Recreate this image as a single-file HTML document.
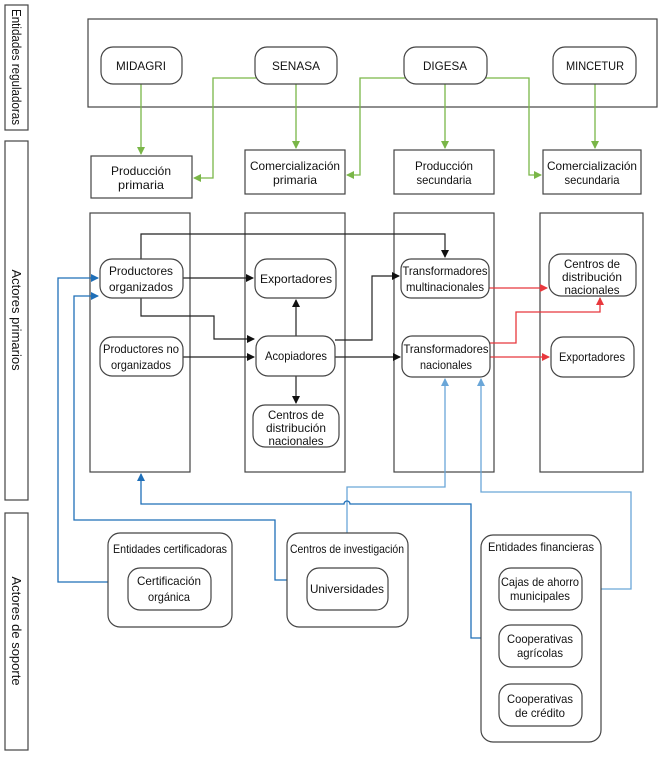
<!DOCTYPE html>
<html><head><meta charset="utf-8"><style>
body{margin:0;background:#fff}
svg{display:block}
text{font-family:"Liberation Sans",sans-serif;font-size:12px;fill:#111;text-anchor:middle}
.s{font-size:13px}
.b{fill:#fff;stroke:#444;stroke-width:1.2}
.k{fill:none;stroke:#222;stroke-width:1.2}
.g{fill:none;stroke:#7ab648;stroke-width:1.3}
.r{fill:none;stroke:#e8383d;stroke-width:1.3}
.u{fill:none;stroke:#1f6fb8;stroke-width:1.3}
.l{fill:none;stroke:#6aa6d8;stroke-width:1.3}
</style></head><body>
<svg width="662" height="757" viewBox="0 0 662 757">
<defs>
<marker id="ak" markerWidth="8" markerHeight="8" refX="7" refY="4" orient="auto" markerUnits="userSpaceOnUse"><path d="M0,0L8,4L0,8z" fill="#111"/></marker>
<marker id="ag" markerWidth="8" markerHeight="8" refX="7" refY="4" orient="auto" markerUnits="userSpaceOnUse"><path d="M0,0L8,4L0,8z" fill="#7ab648"/></marker>
<marker id="ar" markerWidth="8" markerHeight="8" refX="7" refY="4" orient="auto" markerUnits="userSpaceOnUse"><path d="M0,0L8,4L0,8z" fill="#e8383d"/></marker>
<marker id="au" markerWidth="8" markerHeight="8" refX="7" refY="4" orient="auto" markerUnits="userSpaceOnUse"><path d="M0,0L8,4L0,8z" fill="#1f6fb8"/></marker>
<marker id="al" markerWidth="8" markerHeight="8" refX="7" refY="4" orient="auto" markerUnits="userSpaceOnUse"><path d="M0,0L8,4L0,8z" fill="#6aa6d8"/></marker>
</defs>
<rect class="b" x="5" y="5" width="23" height="125"/>
<text class="s" transform="translate(12,67) rotate(90)" textLength="116" lengthAdjust="spacingAndGlyphs">Entidades reguladoras</text>
<rect class="b" x="5" y="141" width="23" height="359"/>
<text class="s" transform="translate(12,320) rotate(90)">Actores primarios</text>
<rect class="b" x="5" y="513" width="23" height="237"/>
<text class="s" transform="translate(12,631) rotate(90)">Actores de soporte</text>

<rect class="b" x="88" y="19" width="569" height="88"/>
<path class="g" d="M141,84V154" marker-end="url(#ag)"/>
<path class="g" d="M256,78H213V178H194" marker-end="url(#ag)"/>
<path class="g" d="M296,84V148" marker-end="url(#ag)"/>
<path class="g" d="M405,78H360V175H347" marker-end="url(#ag)"/>
<path class="g" d="M445,84V148" marker-end="url(#ag)"/>
<path class="g" d="M486,78H529V175H541" marker-end="url(#ag)"/>
<path class="g" d="M595,84V148" marker-end="url(#ag)"/>
<rect class="b" x="101" y="47" width="81" height="37" rx="12"/><text x="141" y="70" textLength="50" lengthAdjust="spacingAndGlyphs">MIDAGRI</text>
<rect class="b" x="255" y="47" width="82" height="37" rx="12"/><text x="296" y="70" textLength="48" lengthAdjust="spacingAndGlyphs">SENASA</text>
<rect class="b" x="404" y="47" width="83" height="37" rx="12"/><text x="445" y="70" textLength="44" lengthAdjust="spacingAndGlyphs">DIGESA</text>
<rect class="b" x="553" y="47" width="83" height="37" rx="12"/><text x="595" y="70" textLength="58" lengthAdjust="spacingAndGlyphs">MINCETUR</text>

<rect class="b" x="91" y="156" width="101" height="42"/><text x="141" y="175" textLength="60" lengthAdjust="spacingAndGlyphs">Producción</text><text x="141" y="189" textLength="46" lengthAdjust="spacingAndGlyphs">primaria</text>
<rect class="b" x="245" y="150" width="100" height="44"/><text x="295" y="170" textLength="90" lengthAdjust="spacingAndGlyphs">Comercialización</text><text x="295" y="184" textLength="44" lengthAdjust="spacingAndGlyphs">primaria</text>
<rect class="b" x="394" y="150" width="100" height="44"/><text x="444" y="170" textLength="58" lengthAdjust="spacingAndGlyphs">Producción</text><text x="444" y="184" textLength="55" lengthAdjust="spacingAndGlyphs">secundaria</text>
<rect class="b" x="543" y="150" width="98" height="44"/><text x="592" y="170" textLength="90" lengthAdjust="spacingAndGlyphs">Comercialización</text><text x="592" y="184" textLength="55" lengthAdjust="spacingAndGlyphs">secundaria</text>

<rect class="b" x="90" y="213" width="100" height="259"/>
<rect class="b" x="245" y="213" width="100" height="259"/>
<rect class="b" x="394" y="213" width="100" height="259"/>
<rect class="b" x="540" y="213" width="103" height="259"/>

<path class="k" d="M141,259V234H445V257" marker-end="url(#ak)"/>
<path class="k" d="M183,278H253" marker-end="url(#ak)"/>
<path class="k" d="M141,298V316H214V339H254" marker-end="url(#ak)"/>
<path class="k" d="M183,357H254" marker-end="url(#ak)"/>
<path class="k" d="M296,336V300" marker-end="url(#ak)"/>
<path class="k" d="M296,376V403" marker-end="url(#ak)"/>
<path class="k" d="M335,340H372V276H399" marker-end="url(#ak)"/>
<path class="k" d="M335,357H400" marker-end="url(#ak)"/>
<path class="r" d="M489,288H547" marker-end="url(#ar)"/>
<path class="r" d="M490,343H516V312H600V298" marker-end="url(#ar)"/>
<path class="r" d="M490,357H549" marker-end="url(#ar)"/>

<path class="u" d="M108,582H58V278H98" marker-end="url(#au)"/>
<path class="u" d="M287,580H275V520H74V296H98" marker-end="url(#au)"/>
<path class="l" d="M347,533V487H445V379" marker-end="url(#al)"/>
<path class="u" d="M481,638H471V504H350A3,3 0 0 0 344,504H141V474" marker-end="url(#au)"/>
<path class="l" d="M582,589H631V492H481V379" marker-end="url(#al)"/>

<rect class="b" x="100" y="259" width="83" height="39" rx="12"/><text x="141" y="275" textLength="64" lengthAdjust="spacingAndGlyphs">Productores</text><text x="141" y="291" textLength="64" lengthAdjust="spacingAndGlyphs">organizados</text>
<rect class="b" x="100" y="337" width="83" height="39" rx="12"/><text x="141" y="353" textLength="76" lengthAdjust="spacingAndGlyphs">Productores no</text><text x="141" y="369" textLength="60" lengthAdjust="spacingAndGlyphs">organizados</text>
<rect class="b" x="255" y="259" width="81" height="39" rx="12"/><text x="296" y="283" textLength="72" lengthAdjust="spacingAndGlyphs">Exportadores</text>
<rect class="b" x="256" y="336" width="79" height="40" rx="12"/><text x="296" y="360" textLength="62" lengthAdjust="spacingAndGlyphs">Acopiadores</text>
<rect class="b" x="253" y="405" width="86" height="42" rx="12"/><text x="296" y="419" textLength="56" lengthAdjust="spacingAndGlyphs">Centros de</text><text x="296" y="432" textLength="60" lengthAdjust="spacingAndGlyphs">distribución</text><text x="296" y="445" textLength="55" lengthAdjust="spacingAndGlyphs">nacionales</text>
<rect class="b" x="401" y="259" width="88" height="39" rx="10"/><text x="445" y="275" textLength="85" lengthAdjust="spacingAndGlyphs">Transformadores</text><text x="445" y="291" textLength="78" lengthAdjust="spacingAndGlyphs">multinacionales</text>
<rect class="b" x="402" y="336" width="88" height="41" rx="10"/><text x="446" y="353" textLength="85" lengthAdjust="spacingAndGlyphs">Transformadores</text><text x="446" y="369" textLength="52" lengthAdjust="spacingAndGlyphs">nacionales</text>
<rect class="b" x="549" y="254" width="87" height="42" rx="12"/><text x="592" y="268" textLength="56" lengthAdjust="spacingAndGlyphs">Centros de</text><text x="592" y="281" textLength="60" lengthAdjust="spacingAndGlyphs">distribución</text><text x="592" y="294" textLength="55" lengthAdjust="spacingAndGlyphs">nacionales</text>
<rect class="b" x="551" y="337" width="83" height="40" rx="12"/><text x="592" y="361" textLength="66" lengthAdjust="spacingAndGlyphs">Exportadores</text>

<rect class="b" x="108" y="533" width="124" height="94" rx="12"/><text x="170" y="553" textLength="114" lengthAdjust="spacingAndGlyphs">Entidades certificadoras</text>
<rect class="b" x="128" y="568" width="83" height="42" rx="12"/><text x="169" y="585" textLength="64" lengthAdjust="spacingAndGlyphs">Certificación</text><text x="169" y="601" textLength="42" lengthAdjust="spacingAndGlyphs">orgánica</text>
<rect class="b" x="287" y="533" width="121" height="94" rx="12"/><text x="347" y="553" textLength="114" lengthAdjust="spacingAndGlyphs">Centros de investigación</text>
<rect class="b" x="307" y="568" width="81" height="42" rx="12"/><text x="347" y="593" textLength="74" lengthAdjust="spacingAndGlyphs">Universidades</text>
<rect class="b" x="481" y="535" width="120" height="207" rx="12"/><text x="541" y="551" textLength="106" lengthAdjust="spacingAndGlyphs">Entidades financieras</text>
<rect class="b" x="499" y="568" width="83" height="42" rx="12"/><text x="540" y="586" textLength="78" lengthAdjust="spacingAndGlyphs">Cajas de ahorro</text><text x="540" y="600" textLength="60" lengthAdjust="spacingAndGlyphs">municipales</text>
<rect class="b" x="499" y="625" width="83" height="42" rx="12"/><text x="540" y="643" textLength="66" lengthAdjust="spacingAndGlyphs">Cooperativas</text><text x="540" y="657" textLength="46" lengthAdjust="spacingAndGlyphs">agrícolas</text>
<rect class="b" x="499" y="684" width="83" height="42" rx="12"/><text x="540" y="703" textLength="66" lengthAdjust="spacingAndGlyphs">Cooperativas</text><text x="540" y="717" textLength="50" lengthAdjust="spacingAndGlyphs">de crédito</text>
</svg>
</body></html>
